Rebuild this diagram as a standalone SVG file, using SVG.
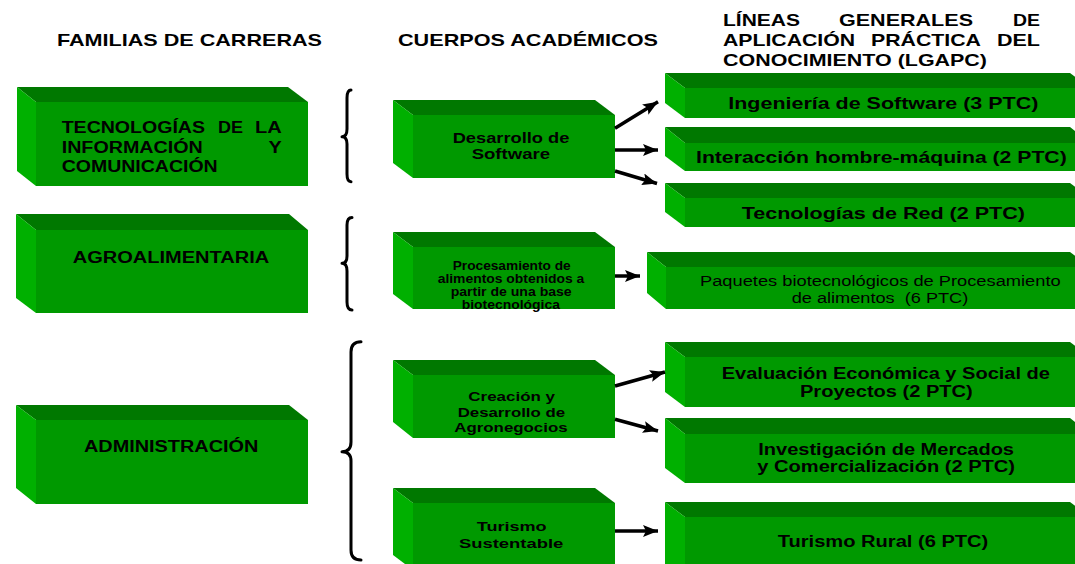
<svg xmlns="http://www.w3.org/2000/svg" width="1075" height="564" viewBox="0 0 1075 564">
<defs>
<style>
.top{fill:#007800}
.left{fill:#00B000}
.front{fill:#009900}
.t{font-family:"Liberation Sans",Arial,sans-serif;font-weight:bold;fill:#000}
.r{font-family:"Liberation Sans",Arial,sans-serif;font-weight:normal;fill:#000}
.br{fill:none;stroke:#000;stroke-width:3;stroke-linecap:round;stroke-linejoin:round}
.ar{fill:none;stroke:#000;stroke-width:3.5}
</style>
<marker id="ah" markerUnits="userSpaceOnUse" markerWidth="16" markerHeight="12" refX="15" refY="6" orient="auto" viewBox="0 0 16 12">
<path d="M0,0 L15,6 L0,12 L3,6 z" fill="#000"/>
</marker>
</defs>
<rect width="1075" height="564" fill="#fff"/>

<g id="headers">
<text class="t" x="57" y="46" font-size="17" textLength="265" lengthAdjust="spacingAndGlyphs">FAMILIAS DE CARRERAS</text>
<text class="t" x="398" y="46" font-size="17" textLength="260" lengthAdjust="spacingAndGlyphs">CUERPOS ACADÉMICOS</text>
<text class="t" x="723" y="26" font-size="17" textLength="77" lengthAdjust="spacingAndGlyphs">LÍNEAS</text>
<text class="t" x="839" y="26" font-size="17" textLength="134" lengthAdjust="spacingAndGlyphs">GENERALES</text>
<text class="t" x="1013" y="26" font-size="17" textLength="27" lengthAdjust="spacingAndGlyphs">DE</text>
<text class="t" x="723" y="45.7" font-size="17" textLength="132" lengthAdjust="spacingAndGlyphs">APLICACIÓN</text>
<text class="t" x="871" y="45.7" font-size="17" textLength="110" lengthAdjust="spacingAndGlyphs">PRÁCTICA</text>
<text class="t" x="997" y="45.7" font-size="17" textLength="43" lengthAdjust="spacingAndGlyphs">DEL</text>
<text class="t" x="723" y="65.7" font-size="17" textLength="264" lengthAdjust="spacingAndGlyphs">CONOCIMIENTO (LGAPC)</text>
</g>

<g id="fam-tic">
<polygon class="top" points="17,87 288,87 308,102 36,102"/>
<polygon class="left" points="17,87 36,102 36,186 17,171"/>
<rect class="front" x="36" y="102" width="272" height="84"/>
<text class="t" x="61.7" y="133.3" font-size="16" textLength="143.3" lengthAdjust="spacingAndGlyphs">TECNOLOGÍAS</text>
<text class="t" x="218" y="133.3" font-size="16" textLength="25" lengthAdjust="spacingAndGlyphs">DE</text>
<text class="t" x="255" y="133.3" font-size="16" textLength="26.7" lengthAdjust="spacingAndGlyphs">LA</text>
<text class="t" x="61.7" y="152.7" font-size="16" textLength="141" lengthAdjust="spacingAndGlyphs">INFORMACIÓN</text>
<text class="t" x="268.5" y="152.7" font-size="16" textLength="13.2" lengthAdjust="spacingAndGlyphs">Y</text>
<text class="t" x="61.7" y="171.7" font-size="16" textLength="156" lengthAdjust="spacingAndGlyphs">COMUNICACIÓN</text>
</g>

<g id="fam-agro">
<polygon class="top" points="16,214 289,214 308,230 36,230"/>
<polygon class="left" points="16,214 36,230 36,313 16,298"/>
<rect class="front" x="36" y="230" width="272" height="83"/>
<text class="t" x="72.7" y="262.7" font-size="16" textLength="196.6" lengthAdjust="spacingAndGlyphs">AGROALIMENTARIA</text>
</g>

<g id="fam-admin">
<polygon class="top" points="16,405 289,405 308,420 36,420"/>
<polygon class="left" points="16,405 36,420 36,504 16,488"/>
<rect class="front" x="36" y="420" width="272" height="84"/>
<text class="t" x="84" y="452.3" font-size="16" textLength="174.3" lengthAdjust="spacingAndGlyphs">ADMINISTRACIÓN</text>
</g>

<g id="ca-software">
<polygon class="top" points="393,100 595,100 615,115 413,115"/>
<polygon class="left" points="393,100 413,115 413,178 393,163"/>
<rect class="front" x="413" y="115" width="202" height="63"/>
<text class="t" x="452.7" y="143.3" font-size="15" textLength="116.6" lengthAdjust="spacingAndGlyphs">Desarrollo de</text>
<text class="t" x="471.7" y="159" font-size="15" textLength="78.3" lengthAdjust="spacingAndGlyphs">Software</text>
</g>

<g id="ca-procesamiento">
<polygon class="top" points="393,232 595,232 615,247 413,247"/>
<polygon class="left" points="393,232 413,247 413,309 393,294"/>
<rect class="front" x="413" y="247" width="202" height="62"/>
<text class="t" x="452.7" y="270" font-size="12" textLength="118" lengthAdjust="spacingAndGlyphs">Procesamiento de</text>
<text class="t" x="437.7" y="283.3" font-size="12" textLength="146.6" lengthAdjust="spacingAndGlyphs">alimentos obtenidos a</text>
<text class="t" x="450.7" y="296" font-size="12" textLength="121" lengthAdjust="spacingAndGlyphs">partir de una base</text>
<text class="t" x="461.7" y="308.5" font-size="12" textLength="98.3" lengthAdjust="spacingAndGlyphs">biotecnológica</text>
</g>

<g id="ca-agronegocios">
<polygon class="top" points="393,360 595,360 615,375 413,375"/>
<polygon class="left" points="393,360 413,375 413,438 393,422"/>
<rect class="front" x="413" y="375" width="202" height="63"/>
<text class="t" x="468.3" y="401" font-size="13.5" textLength="86.7" lengthAdjust="spacingAndGlyphs">Creación y</text>
<text class="t" x="457.7" y="417.3" font-size="13.5" textLength="107.3" lengthAdjust="spacingAndGlyphs">Desarrollo de</text>
<text class="t" x="454.3" y="431.7" font-size="13.5" textLength="113.3" lengthAdjust="spacingAndGlyphs">Agronegocios</text>
</g>

<g id="ca-turismo">
<polygon class="top" points="393,488 595,488 615,503 413,503"/>
<polygon class="left" points="393,488 413,503 413,570 393,555"/>
<rect class="front" x="413" y="503" width="202" height="67"/>
<text class="t" x="476.7" y="531" font-size="13.5" textLength="70" lengthAdjust="spacingAndGlyphs">Turismo</text>
<text class="t" x="459" y="547.7" font-size="13.5" textLength="104.3" lengthAdjust="spacingAndGlyphs">Sustentable</text>
</g>

<g id="l-ingsw">
<polygon class="top" points="665,73 1070,73 1090,88 685,88"/>
<polygon class="left" points="665,73 685,88 685,118 665,103"/>
<rect class="front" x="685" y="88" width="405" height="30"/>
<text class="t" x="728.3" y="109.3" font-size="16.5" textLength="310" lengthAdjust="spacingAndGlyphs">Ingeniería de Software (3 PTC)</text>
</g>

<g id="l-ihm">
<polygon class="top" points="665,127 1070,127 1090,143 685,143"/>
<polygon class="left" points="665,127 685,143 685,171 665,156"/>
<rect class="front" x="685" y="143" width="405" height="28"/>
<text class="t" x="696" y="163.3" font-size="16.5" textLength="370.7" lengthAdjust="spacingAndGlyphs">Interacción hombre-máquina (2 PTC)</text>
</g>

<g id="l-red">
<polygon class="top" points="665,183 1070,183 1090,198 685,198"/>
<polygon class="left" points="665,183 685,198 685,227 665,212"/>
<rect class="front" x="685" y="198" width="405" height="29"/>
<text class="t" x="741.7" y="219" font-size="16.5" textLength="283.3" lengthAdjust="spacingAndGlyphs">Tecnologías de Red (2 PTC)</text>
</g>

<g id="l-paquetes">
<polygon class="top" points="647,252 1070,252 1090,267 666,267"/>
<polygon class="left" points="647,252 666,267 666,309 647,293"/>
<rect class="front" x="666" y="267" width="424" height="42"/>
<text class="r" x="700" y="285.7" font-size="14" textLength="360.7" lengthAdjust="spacingAndGlyphs">Paquetes biotecnológicos de Procesamiento</text>
<text class="r" x="791.7" y="303.3" font-size="14" textLength="176.6" lengthAdjust="spacingAndGlyphs">de alimentos &#160;(6 PTC)</text>
</g>

<g id="l-evaluacion">
<polygon class="top" points="665,342 1070,342 1090,357 685,357"/>
<polygon class="left" points="665,342 685,357 685,407 665,392"/>
<rect class="front" x="685" y="357" width="405" height="50"/>
<text class="t" x="721.7" y="379.3" font-size="16" textLength="328.3" lengthAdjust="spacingAndGlyphs">Evaluación Económica y Social de</text>
<text class="t" x="800" y="396.7" font-size="16" textLength="172.7" lengthAdjust="spacingAndGlyphs">Proyectos (2 PTC)</text>
</g>

<g id="l-mercados">
<polygon class="top" points="665,418 1070,418 1090,434 685,434"/>
<polygon class="left" points="665,418 685,434 685,483 665,468"/>
<rect class="front" x="685" y="434" width="405" height="49"/>
<text class="t" x="758.3" y="455" font-size="16" textLength="255.7" lengthAdjust="spacingAndGlyphs">Investigación de Mercados</text>
<text class="t" x="757.3" y="471.7" font-size="16" textLength="257.7" lengthAdjust="spacingAndGlyphs">y Comercialización (2 PTC)</text>
</g>

<g id="l-turismo-rural">
<polygon class="top" points="665,502 1070,502 1090,517 685,517"/>
<polygon class="left" points="665,502 685,517 685,580 665,565"/>
<rect class="front" x="685" y="517" width="405" height="63"/>
<text class="t" x="777.7" y="547.3" font-size="16" textLength="210.6" lengthAdjust="spacingAndGlyphs">Turismo Rural (6 PTC)</text>
</g>

<g id="connectors">
<path class="br" d="M351,90 Q347,90 347,98 L347,129 Q347,136.7 342,136.7 Q347,136.7 347,144 L347,174 Q347,181.7 351,181.7"/>
<path class="br" d="M352,217.5 Q347,217.5 347,225 L347,256 Q347,263.3 342,263.3 Q347,263.3 347,271 L347,302 Q347,310 352,310"/>
<path class="br" d="M361,341.7 Q351,341.7 351,352 L351,442 Q351,451.7 342,451.7 Q351,451.7 351,461 L351,550 Q351,560 361,560"/>
<line class="ar" x1="615" y1="128.3" x2="658" y2="101.7" marker-end="url(#ah)"/>
<line class="ar" x1="615" y1="150" x2="658" y2="150" marker-end="url(#ah)"/>
<line class="ar" x1="615" y1="171" x2="657" y2="183.5" marker-end="url(#ah)"/>
<line class="ar" x1="615" y1="276" x2="640" y2="276" marker-end="url(#ah)"/>
<line class="ar" x1="615" y1="386" x2="665" y2="372" marker-end="url(#ah)"/>
<line class="ar" x1="615" y1="419.3" x2="658" y2="431" marker-end="url(#ah)"/>
<line class="ar" x1="615" y1="531" x2="658" y2="531" marker-end="url(#ah)"/>
</g>
</svg>
